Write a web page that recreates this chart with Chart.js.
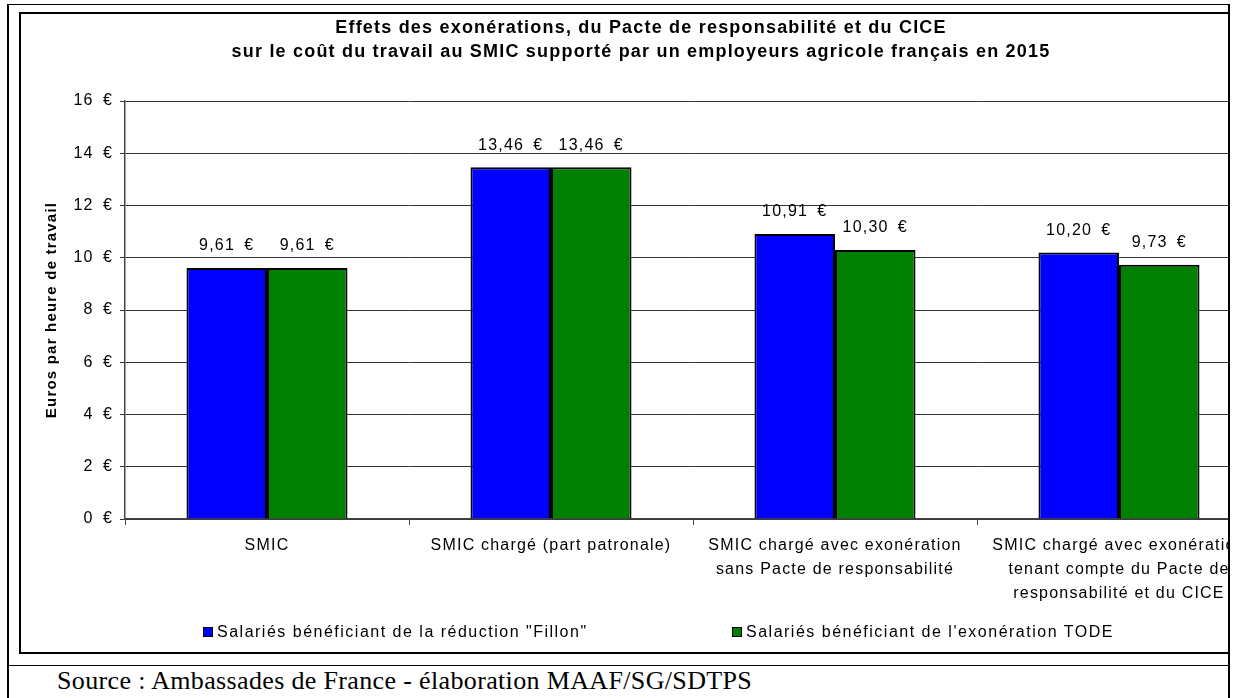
<!DOCTYPE html>
<html>
<head>
<meta charset="utf-8">
<script src="https://cdn.jsdelivr.net/npm/chart.js@4/dist/chart.umd.min.js"></script>
<style>
body{margin:0;background:#fff;font-family:"Liberation Sans",Arial,sans-serif;}
#clip{position:absolute;left:0;top:0;width:1228px;height:698px;overflow:hidden;}
#frame{position:absolute;left:19px;top:12px;width:1272px;height:642px;border:2px solid #000;box-sizing:border-box;}
#frame canvas{position:absolute;left:0;top:0;}
.ln{position:absolute;background:#000;}
#legend .it{position:absolute;top:624px;font-size:16px;letter-spacing:1.5px;color:#000;white-space:nowrap;line-height:16px;}
#legend .box{display:inline-block;width:8px;height:8px;border:1.5px solid #000;margin-right:4px;vertical-align:0px;}
#source{position:absolute;left:57px;top:666px;font-family:"Liberation Serif","Times New Roman",serif;font-size:26px;letter-spacing:0.35px;color:#000;white-space:nowrap;}
</style>
</head>
<body>
<div id="clip">
  <div id="frame"><canvas id="c" width="1268" height="638"></canvas></div>
  <div id="legend"></div>
</div>
<div class="ln" style="left:7px;top:4px;width:1223px;height:1px"></div>
<div class="ln" style="left:7px;top:4px;width:2px;height:694px"></div>
<div class="ln" style="left:1228px;top:4px;width:2px;height:694px"></div>
<div class="ln" style="left:9px;top:665px;width:1220px;height:1px"></div>
<div id="source">Source : Ambassades de France - élaboration MAAF/SG/SDTPS</div>
<script>
var categories=[
  ['SMIC'],
  ['SMIC chargé (part patronale)'],
  ['SMIC chargé avec exonération','sans Pacte de responsabilité'],
  ['SMIC chargé avec exonération','tenant compte du Pacte de','responsabilité et du CICE']
];
var fillon=[9.61,13.46,10.91,10.20];
var tode=[9.61,13.46,10.30,9.73];
var seriesNames=['Salariés bénéficiant de la réduction "Fillon"',"Salariés bénéficiant de l'exonération TODE"];
var seriesColors=['#0000ff','#008000'];
var chartTitle=['Effets des exonérations, du Pacte de responsabilité et du CICE','sur le coût du travail au SMIC supporté par un employeurs agricole français en 2015'];
var yTitle='Euros par heure de travail';

// en space before the euro sign, the original spaces it wide
function euro(v){return v.toFixed(2).replace('.',',')+'\u2002€';}

var spacing={
  id:'spacing',
  beforeUpdate:function(chart){chart.ctx.letterSpacing='1.2px';},
  beforeDraw:function(chart){chart.ctx.letterSpacing='1.2px';}
};

var valueLabels={
  id:'valueLabels',
  afterDatasetsDraw:function(chart){
    var ctx=chart.ctx;
    ctx.save();
    ctx.font='16px "Liberation Sans", Arial, sans-serif';
    ctx.fillStyle='#000';
    ctx.textAlign='center';
    ctx.textBaseline='middle';
    chart.data.datasets.forEach(function(ds,i){
      chart.getDatasetMeta(i).data.forEach(function(bar,j){
        ctx.fillText(euro(ds.data[j]),bar.x,bar.y-22);
      });
    });
    ctx.restore();
  }
};

var chart=new Chart(document.getElementById('c'),{
  type:'bar',
  data:{
    labels:categories,
    datasets:[
      {label:seriesNames[0],data:fillon,backgroundColor:seriesColors[0],borderColor:'#000',borderWidth:2},
      {label:seriesNames[1],data:tode,backgroundColor:seriesColors[1],borderColor:'#000',borderWidth:2}
    ]
  },
  options:{
    responsive:false,
    animation:false,
    events:[],
    layout:{padding:{left:0,right:28,top:0,bottom:0}},
    datasets:{bar:{categoryPercentage:0.567,barPercentage:1}},
    plugins:{
      legend:{display:false},
      tooltip:{enabled:false},
      title:{
        display:true,
        text:chartTitle,
        color:'#000',
        font:{family:'"Liberation Sans", Arial, sans-serif',size:18,weight:'bold',lineHeight:'24px'},
        padding:{top:2,bottom:37}
      }
    },
    scales:{
      x:{
        grid:{display:true,drawOnChartArea:false,tickLength:6,color:'#444'},
        border:{color:'#444',width:1.5},
        ticks:{color:'#000',padding:9,maxRotation:0,autoSkip:false,font:{family:'"Liberation Sans", Arial, sans-serif',size:16,lineHeight:1.5}},
        afterFit:function(s){s.height=133;}
      },
      y:{
        min:0,max:16,
        grid:{color:'#333',tickLength:5},
        border:{color:'#444',width:1.5},
        ticks:{stepSize:2,color:'#000',padding:7,font:{family:'"Liberation Sans", Arial, sans-serif',size:16},callback:function(v){return v+'\u2002€';}},
        title:{display:true,text:yTitle,color:'#000',padding:{top:22,bottom:0},font:{family:'"Liberation Sans", Arial, sans-serif',size:15,weight:'bold'}},
        afterFit:function(s){s.width=104;}
      }
    }
  },
  plugins:[spacing,valueLabels]
});

// legend from the datasets
var lg=document.getElementById('legend');
var lefts=[203,732];
chart.data.datasets.forEach(function(ds,i){
  var d=document.createElement('div');
  d.className='it';
  d.style.left=lefts[i]+'px';
  var b=document.createElement('span');
  b.className='box';
  b.style.background=ds.backgroundColor;
  d.appendChild(b);
  d.appendChild(document.createTextNode(ds.label));
  lg.appendChild(d);
});
</script>
</body>
</html>
